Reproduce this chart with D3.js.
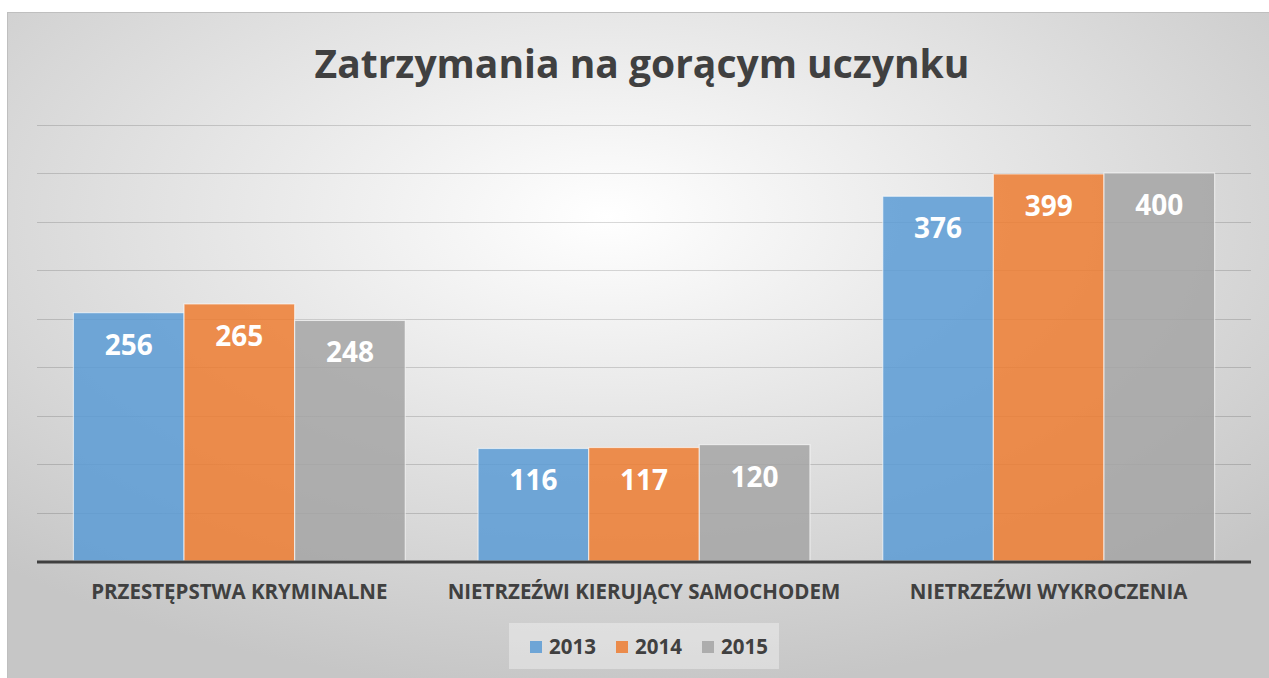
<!DOCTYPE html>
<html>
<head>
<meta charset="utf-8">
<script src="https://cdn.jsdelivr.net/npm/d3@7"></script>
<style>
  html, body { margin: 0; padding: 0; background: #fff; }
  svg { display: block; font-family: "Open Sans", "DejaVu Sans", sans-serif; }
</style>
</head>
<body>
<svg id="chart" width="1269" height="678"></svg>
<script>
// data
var categories = ["PRZESTĘPSTWA KRYMINALNE", "NIETRZEŹWI KIERUJĄCY SAMOCHODEM", "NIETRZEŹWI WYKROCZENIA"];
var years = ["2013", "2014", "2015"];
var values2013 = [256, 116, 376];
var values2014 = [265, 117, 399];
var values2015 = [248, 120, 400];
var seriesColors = ["#5b9bd5", "#ed7d31", "#a5a5a5"];
var yTicks = [50, 100, 150, 200, 250, 300, 350, 400, 450];

var series = [values2013, values2014, values2015];

var svg = d3.select("#chart");

// background with radial gradient
var defs = svg.append("defs");
var grad = defs.append("radialGradient")
    .attr("id", "bg")
    .attr("cx", "0.47").attr("cy", "0.3").attr("r", "0.7");
grad.append("stop").attr("offset", "0").attr("stop-color", "#ffffff");
grad.append("stop").attr("offset", "1").attr("stop-color", "#c6c6c6");

svg.append("rect")
    .attr("x", 7.5).attr("y", 12.5)
    .attr("width", 1275).attr("height", 680)
    .attr("fill", "url(#bg)")
    .attr("stroke", "#bfbfbf");

var plotLeft = 37, plotRight = 1251, plotTop = 124.5, plotBottom = 561;

var y = d3.scaleLinear().domain([0, 450]).range([plotBottom, plotTop]);
var x0 = d3.scaleBand().domain(categories).range([plotLeft, plotRight])
    .paddingInner(0.18).paddingOuter(0.09);
var x1 = d3.scaleBand().domain(years).range([0, x0.bandwidth()]);

// gridlines
svg.append("g").selectAll("line")
    .data(yTicks)
    .enter().append("line")
    .attr("x1", plotLeft).attr("x2", plotRight)
    .attr("y1", function (d) { return Math.round(y(d)) + 0.5; })
    .attr("y2", function (d) { return Math.round(y(d)) + 0.5; })
    .attr("stroke", "#000")
    .attr("stroke-opacity", 0.15);

// bars
var groups = svg.append("g").selectAll("g")
    .data(categories)
    .enter().append("g")
    .attr("transform", function (d) { return "translate(" + x0(d) + ",0)"; });

var barData = function (c, ci) {
    return years.map(function (yr, si) { return { year: yr, si: si, value: series[si][ci] }; });
};

groups.selectAll("rect")
    .data(barData)
    .enter().append("rect")
    .attr("x", function (d) { return x1(d.year); })
    .attr("y", function (d) { return y(d.value); })
    .attr("width", x1.bandwidth())
    .attr("height", function (d) { return plotBottom - y(d.value); })
    .attr("fill", function (d) { return seriesColors[d.si]; })
    .attr("fill-opacity", 0.85)
    .attr("stroke", "#fff")
    .attr("stroke-opacity", 0.6)
    .attr("stroke-width", 1.2);

// value labels
groups.selectAll("text")
    .data(barData)
    .enter().append("text")
    .attr("x", function (d) { return x1(d.year) + x1.bandwidth() / 2; })
    .attr("y", function (d) { return y(d.value) + 42; })
    .attr("text-anchor", "middle")
    .attr("fill", "#fff")
    .attr("font-weight", "bold")
    .attr("font-size", "28px")
    .text(function (d) { return d.value; });

// baseline axis
svg.append("line")
    .attr("x1", plotLeft).attr("x2", plotRight)
    .attr("y1", plotBottom + 1).attr("y2", plotBottom + 1)
    .attr("stroke", "#404040")
    .attr("stroke-width", 3);

// category labels
svg.append("g").selectAll("text")
    .data(categories)
    .enter().append("text")
    .attr("x", function (d) { return x0(d) + x0.bandwidth() / 2; })
    .attr("y", 599)
    .attr("text-anchor", "middle")
    .attr("fill", "#404040")
    .attr("font-weight", "bold")
    .attr("font-size", "20.5px")
    .text(function (d) { return d; });

// title
svg.append("text")
    .attr("x", 642)
    .attr("y", 78)
    .attr("text-anchor", "middle")
    .attr("fill", "#404040")
    .attr("font-weight", "bold")
    .attr("font-size", "39px")
    .text("Zatrzymania na gorącym uczynku");

// legend
svg.append("rect")
    .attr("x", 509).attr("y", 623)
    .attr("width", 270).attr("height", 46)
    .attr("fill", "#fff").attr("fill-opacity", 0.35);

var legend = svg.append("g").selectAll("g")
    .data(years)
    .enter().append("g")
    .attr("transform", function (d, i) { return "translate(" + (530 + i * 86) + ",641)"; });

legend.append("rect")
    .attr("width", 12).attr("height", 12)
    .attr("fill", function (d, i) { return seriesColors[i]; })
    .attr("fill-opacity", 0.85);

legend.append("text")
    .attr("x", 19).attr("y", 13)
    .attr("fill", "#404040")
    .attr("font-weight", "bold")
    .attr("font-size", "20.5px")
    .text(function (d) { return d; });
</script>
</body>
</html>
